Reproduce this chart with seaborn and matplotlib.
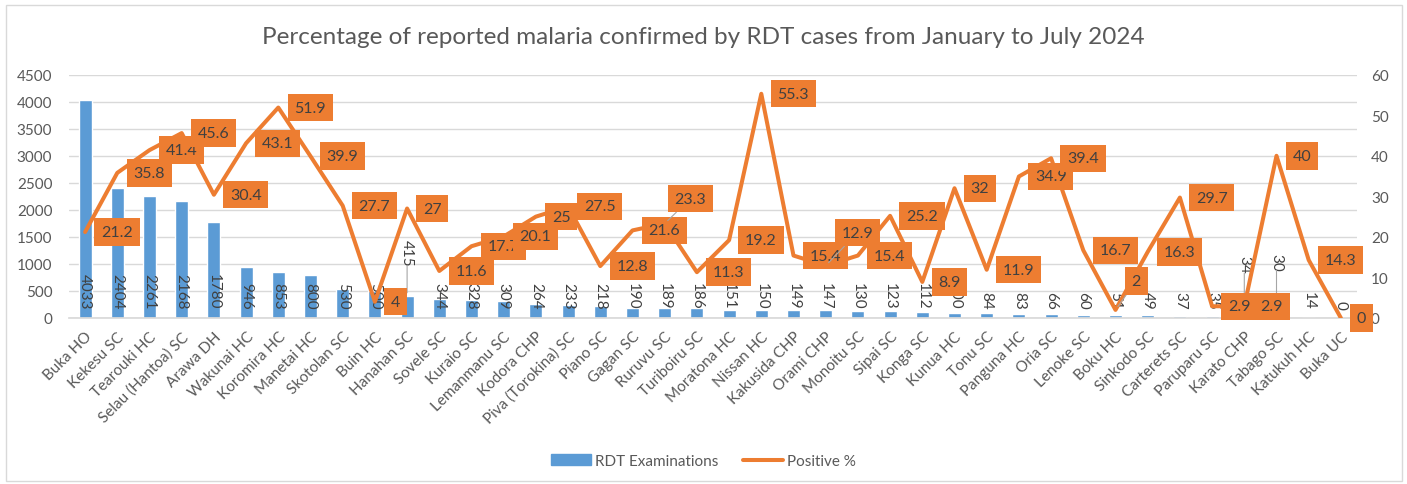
import numpy as np
import pandas as pd
import matplotlib
matplotlib.use("Agg")
import matplotlib.pyplot as plt
from matplotlib.patches import Patch, Rectangle
from matplotlib.lines import Line2D
import seaborn as sns

facilities = ["Buka HO", "Kekesu SC", "Tearouki HC", "Selau (Hantoa) SC", "Arawa DH",
              "Wakunai HC", "Koromira HC", "Manetai HC", "Skotolan SC", "Buin HC",
              "Hanahan SC", "Sovele SC", "Kuraio SC", "Lemanmanu SC", "Kodora CHP",
              "Piva (Torokina) SC", "Piano SC", "Gagan SC", "Ruruvu SC", "Turiboiru SC",
              "Moratona HC", "Nissan HC", "Kakusida CHP", "Orami CHP", "Monoitu SC",
              "Sipai SC", "Konga SC", "Kunua HC", "Tonu SC", "Panguna HC",
              "Oria SC", "Lenoke SC", "Boku HC", "Sinkodo SC", "Carterets SC",
              "Paruparu SC", "Karato CHP", "Tabago SC", "Katukuh HC", "Buka UC"]
rdt_exams = [4033, 2404, 2261, 2168, 1780, 946, 853, 800, 530, 500,
             415, 344, 328, 309, 264, 233, 218, 190, 189, 186,
             151, 150, 149, 147, 130, 123, 112, 100, 84, 83,
             66, 60, 51, 49, 37, 35, 34, 30, 14, 0]
positive_pct = [21.2, 35.8, 41.4, 45.6, 30.4, 43.1, 51.9, 39.9, 27.7, 4,
                27, 11.6, 17.7, 20.1, 25, 27.5, 12.8, 21.6, 23.3, 11.3,
                19.2, 55.3, 15.4, 12.9, 15.4, 25.2, 8.9, 32, 11.9, 34.9,
                39.4, 16.7, 2, 16.3, 29.7, 2.9, 2.9, 40, 14.3, 0]

df = pd.DataFrame({"facility": facilities, "rdt": rdt_exams, "pct": positive_pct})

# labels that were dragged away from the default spot in the original
bar_label_nudge = {"Hanahan SC": 30, "Karato CHP": 43, "Tabago SC": 46}
line_label_nudge = {"Ruruvu SC": (-6, 25), "Orami CHP": (0, 33), "Boku HC": (0, 29)}

blue = "#5B9BD5"
orange = "#ED7D31"
grey_txt = "#595959"
dark_txt = "#404040"
grid_col = "#D9D9D9"

sns.set_theme(style="white")
plt.rcParams["font.family"] = ["Lato", "DejaVu Sans"]

fig = plt.figure(figsize=(14.07, 4.85), dpi=100)
ax1 = fig.add_axes([69 / 1407, 1 - 319 / 485, (1357 - 69) / 1407, (319 - 75.7) / 485])

sns.barplot(data=df, x="facility", y="rdt", color=blue, saturation=1, width=0.4, ax=ax1, zorder=2)
ax1.set_ylim(0, 4500)
ax1.set_yticks(np.arange(0, 4501, 500))
ax1.set_xlim(-0.5, len(df) - 0.5)
ax1.grid(axis="y", color=grid_col, linewidth=1)
ax1.set_axisbelow(True)
ax1.set_xlabel("")
ax1.set_ylabel("")
for s in ["top", "left", "right"]:
    ax1.spines[s].set_visible(False)
ax1.spines["bottom"].set_color(grid_col)
ax1.tick_params(axis="both", length=0, colors=grey_txt, labelsize=11)
ax1.tick_params(axis="y", pad=12)
ax1.set_xticks(range(len(df)))
ax1.set_xticklabels(df["facility"], rotation=45, ha="right", rotation_mode="anchor")
ax1.tick_params(axis="x", pad=8)

for i, (name, v) in enumerate(zip(df["facility"], df["rdt"])):
    up = bar_label_nudge.get(name)
    if up is None:
        ax1.annotate(str(v), (i, 0), xytext=(0, 9), textcoords="offset pixels",
                     rotation=270, ha="center", va="bottom", fontsize=11, color=dark_txt, zorder=3)
    else:
        ax1.annotate(str(v), (i, v), xytext=(0, up), textcoords="offset pixels",
                     rotation=270, ha="center", va="bottom", fontsize=11, color=dark_txt, zorder=3)
        ax1.annotate("", (i, v), xytext=(0, up), textcoords="offset pixels",
                     arrowprops=dict(arrowstyle="-", color="#A6A6A6", lw=0.8, shrinkA=0, shrinkB=2))

ax2 = ax1.twinx()
sns.lineplot(x=np.arange(len(df)), y=df["pct"], color=orange, linewidth=2.9, ax=ax2, zorder=4)
ax2.set_ylim(0, 60)
ax2.set_yticks(np.arange(0, 61, 10))
ax2.set_xlim(-0.5, len(df) - 0.5)
ax2.set_ylabel("")
for s in ["top", "left", "right", "bottom"]:
    ax2.spines[s].set_visible(False)
ax2.tick_params(axis="y", length=0, colors=grey_txt, labelsize=11, pad=10)

for i, (name, v) in enumerate(zip(df["facility"], df["pct"])):
    dx, dy = line_label_nudge.get(name, (0, 0))
    kw = dict(xytext=(16 + dx, dy), textcoords="offset pixels", ha="left", va="center",
              fontsize=11.5, color=dark_txt, zorder=5,
              bbox=dict(boxstyle="square,pad=0.42", fc=orange, ec="none"))
    if dx or dy:
        kw["arrowprops"] = dict(arrowstyle="-", color="#A6A6A6", lw=0.8, shrinkA=0, shrinkB=3)
    ax2.annotate(f"{v:g}", (i, v), **kw)

fig.text(0.5, 1 - 38 / 485, "Percentage of reported malaria confirmed by RDT cases from January to July 2024",
         ha="center", va="center", fontsize=17.5, color=grey_txt)

handles = [Patch(color=blue, label="RDT Examinations"),
           Line2D([0], [0], color=orange, linewidth=2.9, label="Positive %")]
fig.legend(handles=handles, loc="center", bbox_to_anchor=(0.5, 1 - 462 / 485), ncol=2,
           frameon=False, fontsize=11, labelcolor=grey_txt, handlelength=2.6,
           handletextpad=0.3, columnspacing=1.6)

fig.patches.append(Rectangle((6 / 1407, 3 / 485), (1402 - 6) / 1407, (485 - 9) / 485,
                             transform=fig.transFigure, fill=False, ec=grid_col, lw=1))

fig.savefig("out.png", dpi=100)
